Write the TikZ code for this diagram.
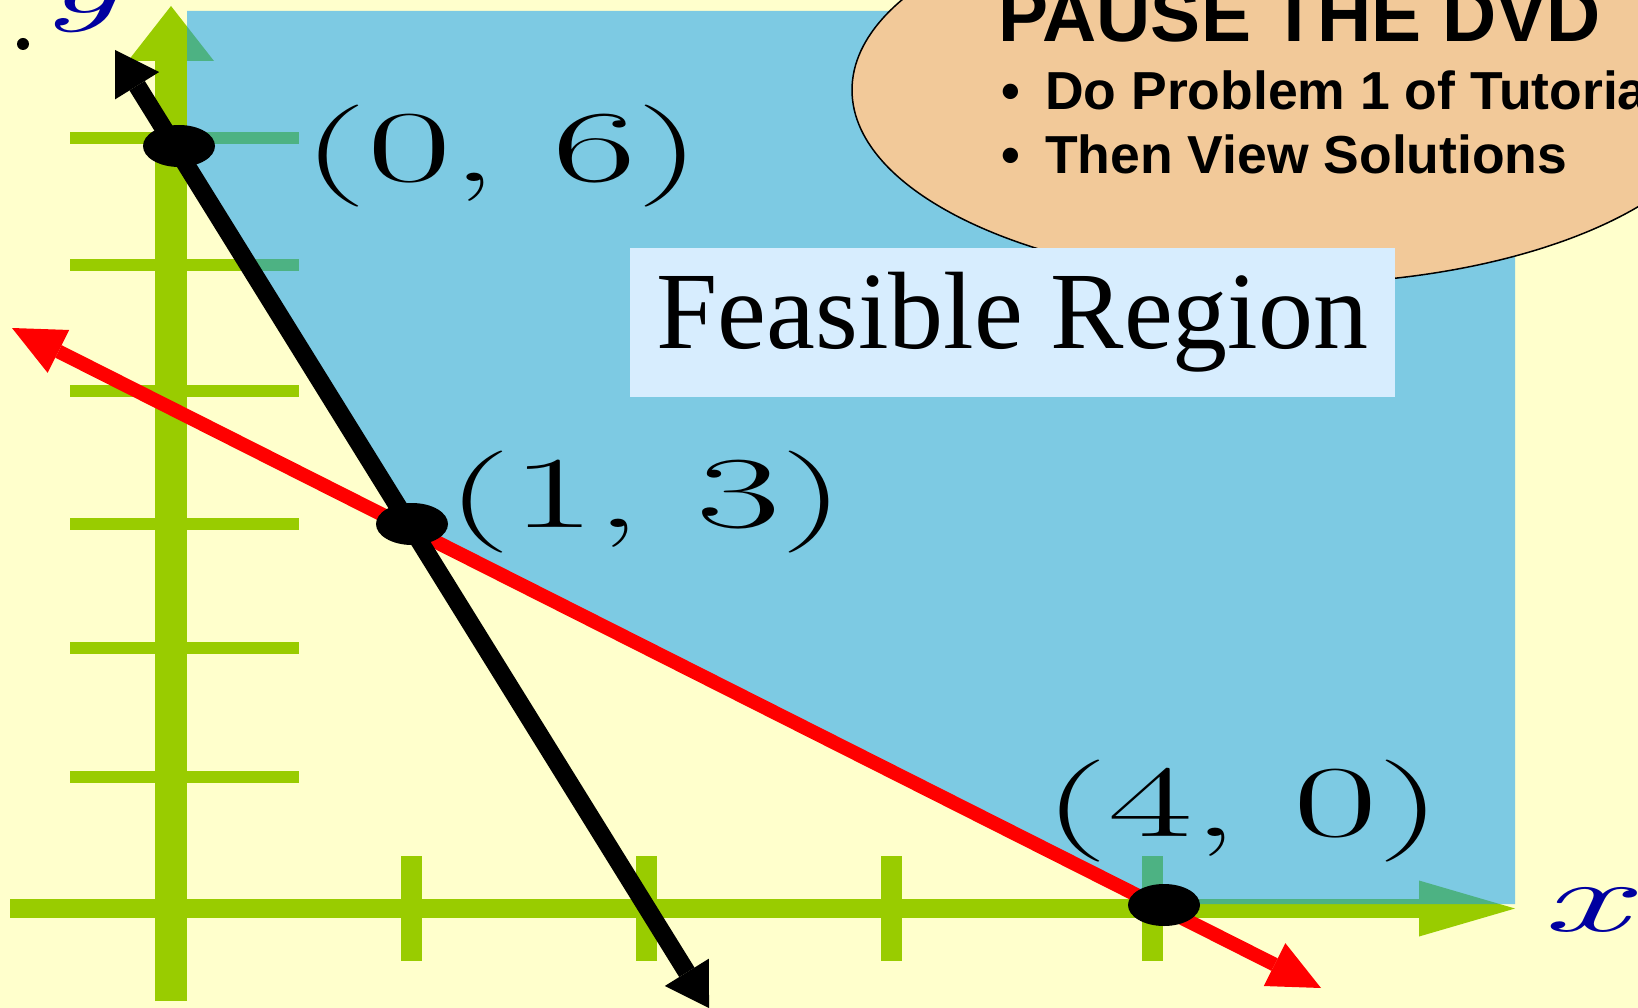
\documentclass[tikz,border=0pt]{standalone}
\usepackage{fontspec}
\newfontfamily\labelsans{Liberation Sans}
\newfontfamily\labelserif{Liberation Serif}
\usetikzlibrary{arrows.meta,shapes.geometric}
\definecolor{paper}{HTML}{FFFFCC}
\definecolor{axisgreen}{HTML}{99CC00}
\definecolor{regionblue}{RGB}{11,155,249}
\definecolor{boxblue}{HTML}{D7EDFE}
\definecolor{pausetan}{HTML}{F2C999}
\definecolor{axisblue}{RGB}{0,0,160}

\begin{document}
\begin{tikzpicture}[x=1pt, y=-1pt,
    xtickbar/.style={draw=axisgreen, line width=21pt},
    ytickbar/.style={draw=axisgreen, line width=12.5pt},
    cornerdot/.style={ellipse, fill=black, inner sep=0pt, minimum width=72pt, minimum height=42pt},
    ptlabel/.style={anchor=base, inner sep=0pt, font=\fontsize{102}{110}\selectfont},
    axislabel/.style={anchor=base, inner sep=0pt, text=axisblue, font=\fontsize{100}{110}\selectfont\itshape},
    bullettext/.style={anchor=base west, inner sep=0pt, font=\labelsans\bfseries\fontsize{53.5}{60}\selectfont}]
    \useasboundingbox (0,0) rectangle (1638,1008);
    \fill[paper] (0,0) rectangle (1638,1008);
    % grid ticks and axes
    \foreach \ty in {138,265,391,524,648,777}
        \draw[ytickbar] (70,\ty) -- (299,\ty);
    \foreach \tx in {411,646,891,1152}
        \draw[xtickbar] (\tx,856) -- (\tx,961);
    \coordinate (yfoot) at (171,1001);
    \coordinate (ytip) at (171,6);
    \coordinate (xfoot) at (10,908.5);
    \coordinate (xtip) at (1515,908.5);
    \draw[axisgreen, line width=19pt, -{Triangle[length=96pt, width=56pt, line width=0pt]}] (xfoot) -- (xtip);
    \draw[axisgreen, line width=32pt, -{Triangle[length=55pt, width=86pt, line width=0pt]}] (yfoot) -- (ytip);
    % feasible region
    \fill[regionblue, fill opacity=0.53] (187,11) -- (187,157) -- (417,532) -- (1154,904)
        -- (1515,904) -- (1515,11) -- cycle;
    \node[circle, fill=black, inner sep=0pt, minimum size=12pt] (stray) at (23,44) {};
    \node[axislabel] (ylab) at (80,13) {\scalebox{1.8}[1]{y}};
    \node[axislabel] (xlab) at (1584,931) {\scalebox{1.9}[1]{x}};
    % constraint lines
    \coordinate (redtail) at (12,328);
    \coordinate (redhead) at (1321,988);
    \coordinate (blacktail) at (115,50);
    \coordinate (blackhead) at (709,1008);
    \draw[red, line width=14pt, {Triangle[length=52pt, width=48pt, line width=0pt]}-{Triangle[length=52pt, width=48pt, line width=0pt]}] (redtail) -- (redhead);
    \draw[black, line width=18pt, {Triangle[length=42pt, width=52pt, line width=0pt]}-{Triangle[length=42pt, width=52pt, line width=0pt]}] (blacktail) -- (blackhead);
    \node[cornerdot] (p06) at (179,146) {};
    \node[cornerdot] (p13) at (412,524) {};
    \node[cornerdot] (p40) at (1164,905) {};
    \node[ptlabel] (l06) at (502,182) {\scalebox{1.8}[1]{(0, 6)}};
    \node[ptlabel] (l13) at (646,527) {\scalebox{1.8}[1]{(1, 3)}};
    \node[ptlabel] (l40) at (1243,836) {\scalebox{1.8}[1]{(4, 0)}};
    % pause bubble
    \node[ellipse, draw=black, line width=1.5pt, fill=pausetan, inner sep=0pt,
        minimum width=874pt, minimum height=388pt] (pause) at (1289,90) {};
    \node[anchor=base west, inner sep=0pt, font=\labelsans\bfseries\fontsize{75}{80}\selectfont] (pausetitle) at (998,42) {PAUSE THE DVD};
    \node[bullettext] (bul1) at (1001,110) {•};
    \node[bullettext] (step1) at (1045,110) {Do Problem 1 of Tutorial};
    \node[bullettext] (bul2) at (1001,174) {•};
    \node[bullettext] (step2) at (1045,174) {Then View Solutions};
    \node[fill=boxblue, inner sep=0pt, minimum width=765pt, minimum height=149pt,
        font=\labelserif\fontsize{110}{120}\selectfont] (feasible) at (1012.5,322.5) {Feasible Region};
\end{tikzpicture}
\end{document}
